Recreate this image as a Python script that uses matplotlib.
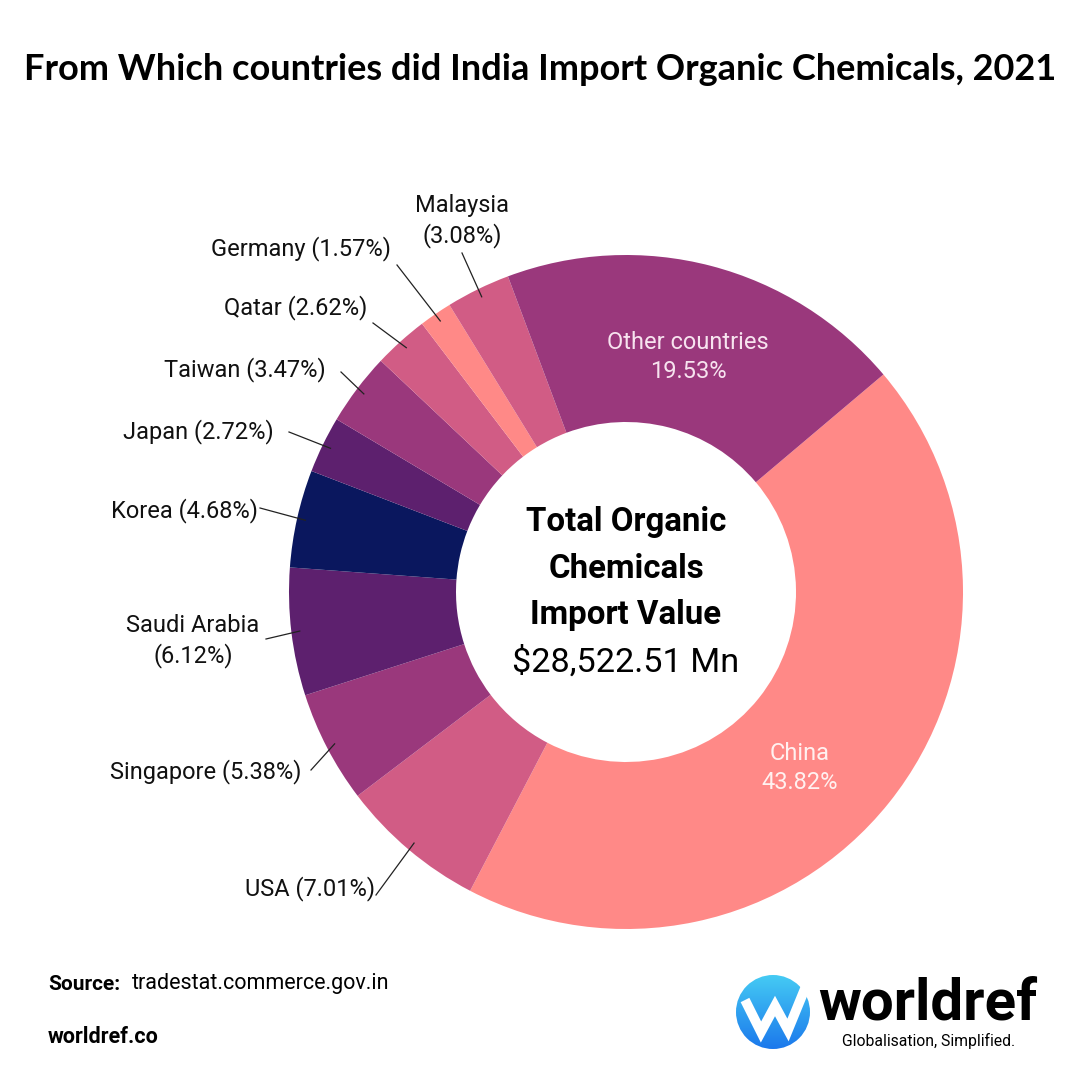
import numpy as np
import matplotlib
matplotlib.use('Agg')
import matplotlib.pyplot as plt
from matplotlib.patches import Circle

# ── Data ─────────────────────────────────────────────────────────────
countries = ['China', 'USA', 'Singapore', 'Saudi Arabia', 'Korea', 'Japan',
             'Taiwan', 'Qatar', 'Germany', 'Malaysia', 'Other countries']
shares = [43.82, 7.01, 5.38, 6.12, 4.68, 2.72, 3.47, 2.62, 1.57, 3.08, 19.53]
colors = ['#FF8987', '#D15C85', '#9A387C', '#5D206E', '#0A175E', '#5D206E',
          '#9A387C', '#D15C85', '#FF8987', '#D15C85', '#9A387C']
total_value = 28522.51

TITLE = 'From Which countries did India Import Organic Chemicals, 2021'

# ── Layout (pixels, figure is 1080 x 1080) ──────────────────────────
W = H = 1080
CX, CY, R = 626, 592, 337
R_IN = 170
START = 40.2

plt.rcParams['font.family'] = ['Roboto', 'DejaVu Sans']

fig = plt.figure(figsize=(10.8, 10.8), dpi=100)
fig.patch.set_facecolor('white')

ax = fig.add_axes([(CX - R) / W, (H - CY - R) / H, 2 * R / W, 2 * R / H])
ax.pie(shares, colors=colors, startangle=START, counterclock=False, radius=1,
       wedgeprops=dict(width=1 - R_IN / R, linewidth=0))
ax.set_xlim(-1, 1)
ax.set_ylim(-1, 1)
ax.set_aspect('equal')
ax.axis('off')

# overlay axes in pixel coordinates
ov = fig.add_axes([0, 0, 1, 1], zorder=5)
ov.set_xlim(0, W)
ov.set_ylim(H, 0)
ov.axis('off')

# mid angle of each wedge
cum = np.cumsum([0] + shares)
mid_angles = {c: START - 3.6 * (cum[i] + shares[i] / 2) for i, c in enumerate(countries)}


def wedge_point(name, frac=0.975):
    a = np.deg2rad(mid_angles[name])
    return CX + frac * R * np.cos(a), CY - frac * R * np.sin(a)


# outside labels: (name, text, x, y, ha, leader-start)
outside = [
    ('Malaysia', 'Malaysia\n(3.08%)', 462, 221, 'center', (462, 253)),
    ('Germany', 'Germany (1.57%)', 391, 249, 'right', (397, 265)),
    ('Qatar', 'Qatar (2.62%)', 367, 308, 'right', (373, 323)),
    ('Taiwan', 'Taiwan (3.47%)', 326, 370, 'right', (341, 372)),
    ('Japan', 'Japan (2.72%)', 274, 432, 'right', (289, 432)),
    ('Korea', 'Korea (4.68%)', 258, 511, 'right', (260, 508)),
    ('Saudi Arabia', 'Saudi Arabia\n(6.12%)', 193, 641, 'center', (266, 639)),
    ('Singapore', 'Singapore (5.38%)', 302, 772, 'right', (311, 770)),
    ('USA', 'USA (7.01%)', 375, 889, 'right', (376, 895)),
]
for name, txt, x, y, ha, start in outside:
    ov.text(x, y, txt, ha=ha, va='center', fontsize=17, color='#111111',
            linespacing=1.35)
    px, py = wedge_point(name)
    ov.plot([start[0], px], [start[1], py], color='#222222', lw=0.9)

# inside labels
ov.text(688, 357, 'Other countries\n19.53%', ha='center', va='center',
        fontsize=17, color='#F7E3EF', linespacing=1.35)
ov.text(800, 768, 'China\n43.82%', ha='center', va='center',
        fontsize=17, color='#FFF1F0', linespacing=1.35)

# centre text
for i, line in enumerate(['Total Organic', 'Chemicals', 'Import Value']):
    ov.text(626, 522 + i * 46.5, line, ha='center', va='center', fontsize=23.8,
            fontweight='bold', color='black')
ov.text(626, 662, f'${total_value:,.2f} Mn', ha='center', va='center',
        fontsize=24.7, color='black')

# title
ov.text(540, 70, TITLE, ha='center', va='center', fontsize=26,
        fontweight='bold', color='black', family=['Lato', 'DejaVu Sans'])

# footer
ov.text(48, 984, 'Source:', ha='left', va='center', fontsize=15,
        fontweight='bold', color='black')
ov.text(132, 984, 'tradestat.commerce.gov.in', ha='left', va='center',
        fontsize=15.5, color='black')
ov.text(48, 1037, 'worldref.co', ha='left', va='center', fontsize=15.5,
        fontweight='bold', color='black')

# logo
LX, LY, LR = 773, 1012, 37
grad = np.linspace(0, 1, 256).reshape(-1, 1)
img = ov.imshow(grad, extent=[LX - LR, LX + LR, LY - LR, LY + LR],
                cmap=matplotlib.colors.LinearSegmentedColormap.from_list(
                    'logo', ['#45CBF4', '#1B78EC']), origin='lower', zorder=6)
clip = Circle((LX, LY), LR, transform=ov.transData)
img.set_clip_path(clip)
ov.set_xlim(0, W)
ov.set_ylim(H, 0)
ov.plot([LX - 28, LX - 12, LX + 2, LX + 15, LX + 33],
        [LY - 12, LY + 20, LY - 6, LY + 18, LY - 26],
        color='white', lw=7, solid_joinstyle='miter', solid_capstyle='butt',
        zorder=7)
ov.text(818, 1004, 'worldref', ha='left', va='center', fontsize=42,
        fontweight='bold', color='black', zorder=7)
ov.text(929, 1041, 'Globalisation, Simplified.', ha='center', va='center',
        fontsize=11.3, color='black', zorder=7)

fig.savefig('out.png', dpi=100, facecolor='white')
